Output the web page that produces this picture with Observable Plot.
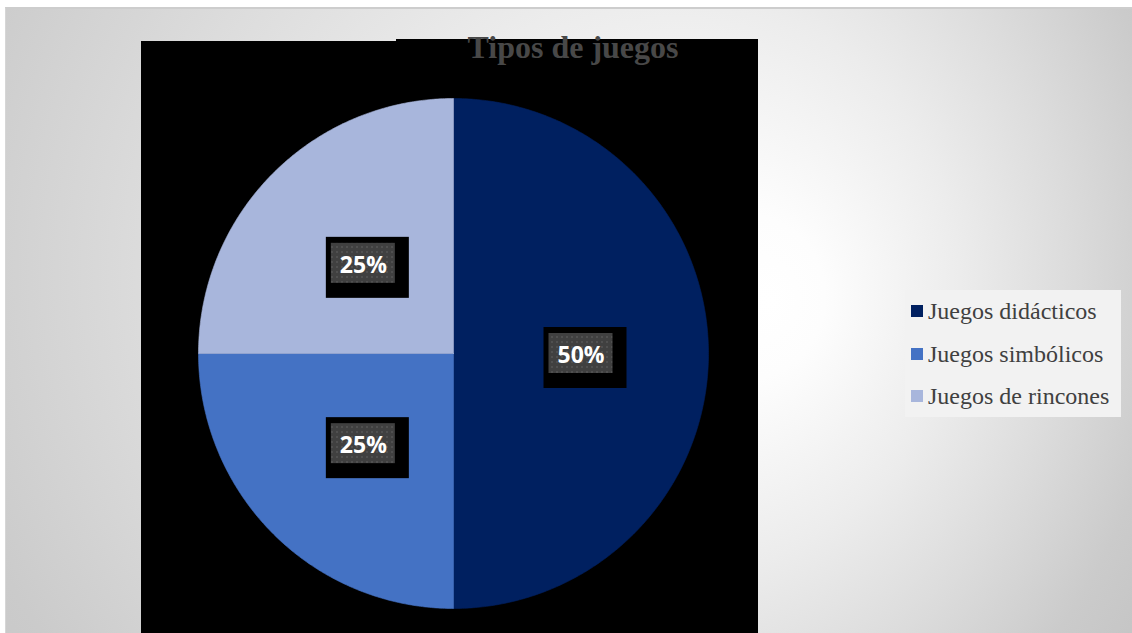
<!DOCTYPE html>
<html>
<head>
<meta charset="utf-8">
<script src="https://cdn.jsdelivr.net/npm/d3@7"></script>
<script src="https://cdn.jsdelivr.net/npm/@observablehq/plot@0.6"></script>
<style>
  html, body { margin: 0; padding: 0; background: #ffffff; width: 1132px; height: 633px; overflow: hidden; }
  #stage { position: relative; width: 1132px; height: 633px; }
  #bg { position: absolute; left: 5px; top: 7px; width: 1127px; height: 626px; border-top: 2px solid #cdcdcd; border-left: 1px solid #d6d6d6; box-sizing: border-box; overflow: hidden; }
  .blk { position: absolute; background: #000; }
  #chart { position: absolute; left: 0; top: 0; }
  #title { position: absolute; left: 573px; top: 31px; transform: translateX(-50%); font-family: "Liberation Serif", "Times New Roman", serif; font-weight: bold; font-size: 32px; line-height: 32px; color: #484848; white-space: nowrap; }
  #legend { position: absolute; left: 905px; top: 290px; width: 216px; height: 127px; background: #f2f2f2; }
  .row { position: absolute; left: 6px; height: 24px; display: flex; align-items: center; font-family: "Liberation Serif", "Times New Roman", serif; font-size: 24px; line-height: 24px; color: #404040; white-space: nowrap; }
  .sw { width: 12px; height: 12px; margin-right: 5px; }
</style>
</head>
<body>
<div id="stage">
  <div id="bg">
    <svg width="1127" height="626" style="position:absolute;left:0;top:0">
      <defs>
        <radialGradient id="bgGrad" gradientUnits="userSpaceOnUse" cx="470" cy="244" r="835" fx="765" fy="293">
          <stop offset="0" stop-color="#ffffff"/>
          <stop offset="0.1" stop-color="#fdfdfd"/>
          <stop offset="0.35" stop-color="#ececec"/>
          <stop offset="0.55" stop-color="#dcdcdc"/>
          <stop offset="0.75" stop-color="#cbcbcb"/>
          <stop offset="1" stop-color="#bfbfbf"/>
        </radialGradient>
      </defs>
      <rect width="1127" height="626" fill="url(#bgGrad)"/>
    </svg>
  </div>
  <div class="blk" style="left:141px; top:41px; width:617px; height:592px;"></div>
  <div class="blk" style="left:396px; top:39px; width:362px; height:4px;"></div>
  <div id="chart"></div>
  <div id="title">Tipos de juegos</div>
  <div id="legend"></div>
</div>
<script>
// ---- data ----
const categories = ["Juegos didácticos", "Juegos simbólicos", "Juegos de rincones"];
const values = [50, 25, 25];
const labels = ["50%", "25%", "25%"];
const colors = ["#002060", "#4472C4", "#A8B6DC"];

// ---- layout (pixels) ----
const W = 1132, H = 633;
const CX = 453, CY = 353, R = 255;

const pie = d3.pie().sort(null).value(d => d)(values);

// slice polygons in unit coordinates (angle 0 at top, clockwise)
const slicePts = [];
pie.forEach((p, i) => {
  const cat = categories[i];
  slicePts.push({cat, x: 0, y: 0});
  const n = Math.max(2, Math.ceil((p.endAngle - p.startAngle) / (Math.PI / 360)));
  for (let k = 0; k <= n; k++) {
    const a = p.startAngle + (p.endAngle - p.startAngle) * k / n;
    slicePts.push({cat, x: Math.sin(a), y: Math.cos(a)});
  }
  slicePts.push({cat, x: 0, y: 0});
});

// label anchor = arc centroid at half radius
const labelData = pie.map((p, i) => {
  const a = (p.startAngle + p.endAngle) / 2;
  return {cat: categories[i], label: labels[i], x: 0.5 * Math.sin(a), y: 0.5 * Math.cos(a)};
});
const u = 1 / R; // one pixel in data units

const chart = Plot.plot({
  width: W, height: H,
  marginLeft: CX - R, marginRight: W - (CX + R),
  marginTop: CY - R, marginBottom: H - (CY + R),
  x: {domain: [-1, 1], axis: null},
  y: {domain: [-1, 1], axis: null},
  color: {domain: categories, range: colors},
  style: {background: "transparent", overflow: "visible"},
  marks: [
    Plot.line(slicePts, {x: "x", y: "y", z: "cat", fill: "cat", stroke: "cat", strokeWidth: 0.6, curve: "linear"}),
    Plot.rect(labelData, {x1: d => d.x - 37 * u, x2: d => d.x + 46 * u, y1: d => d.y - 35 * u, y2: d => d.y + 26 * u, fill: "#000000"}),
    Plot.rect(labelData, {x1: d => d.x - 32 * u, x2: d => d.x + 32 * u, y1: d => d.y - 20 * u, y2: d => d.y + 20 * u, fill: "#404040", ariaDescription: "label-inner"}),
    Plot.text(labelData, {x: "x", y: "y", text: "label", fill: "#ffffff", fontSize: 23, fontWeight: "bold", fontFamily: "Open Sans, Liberation Sans, sans-serif", dy: 2})
  ]
});

// texture pattern for the label boxes
const ns = "http://www.w3.org/2000/svg";
const defs = document.createElementNS(ns, "defs");
defs.innerHTML = '<pattern id="dots" patternUnits="userSpaceOnUse" width="5" height="5">' +
  '<rect width="5" height="5" fill="#404040"/>' +
  '<rect x="1" y="1" width="2" height="2" fill="#505050"/></pattern>';
chart.insertBefore(defs, chart.firstChild);
const inner = chart.querySelector('g[aria-description="label-inner"]');
if (inner) inner.setAttribute("fill", "url(#dots)");

document.getElementById("chart").appendChild(chart);

// legend
const legend = document.getElementById("legend");
const rowCenters = [21, 64, 106];
categories.forEach((c, i) => {
  const row = document.createElement("div");
  row.className = "row";
  row.style.top = (rowCenters[i] - 12) + "px";
  const sw = document.createElement("div");
  sw.className = "sw";
  sw.style.background = colors[i];
  const t = document.createElement("span");
  t.textContent = c;
  row.appendChild(sw);
  row.appendChild(t);
  legend.appendChild(row);
});
</script>
</body>
</html>
